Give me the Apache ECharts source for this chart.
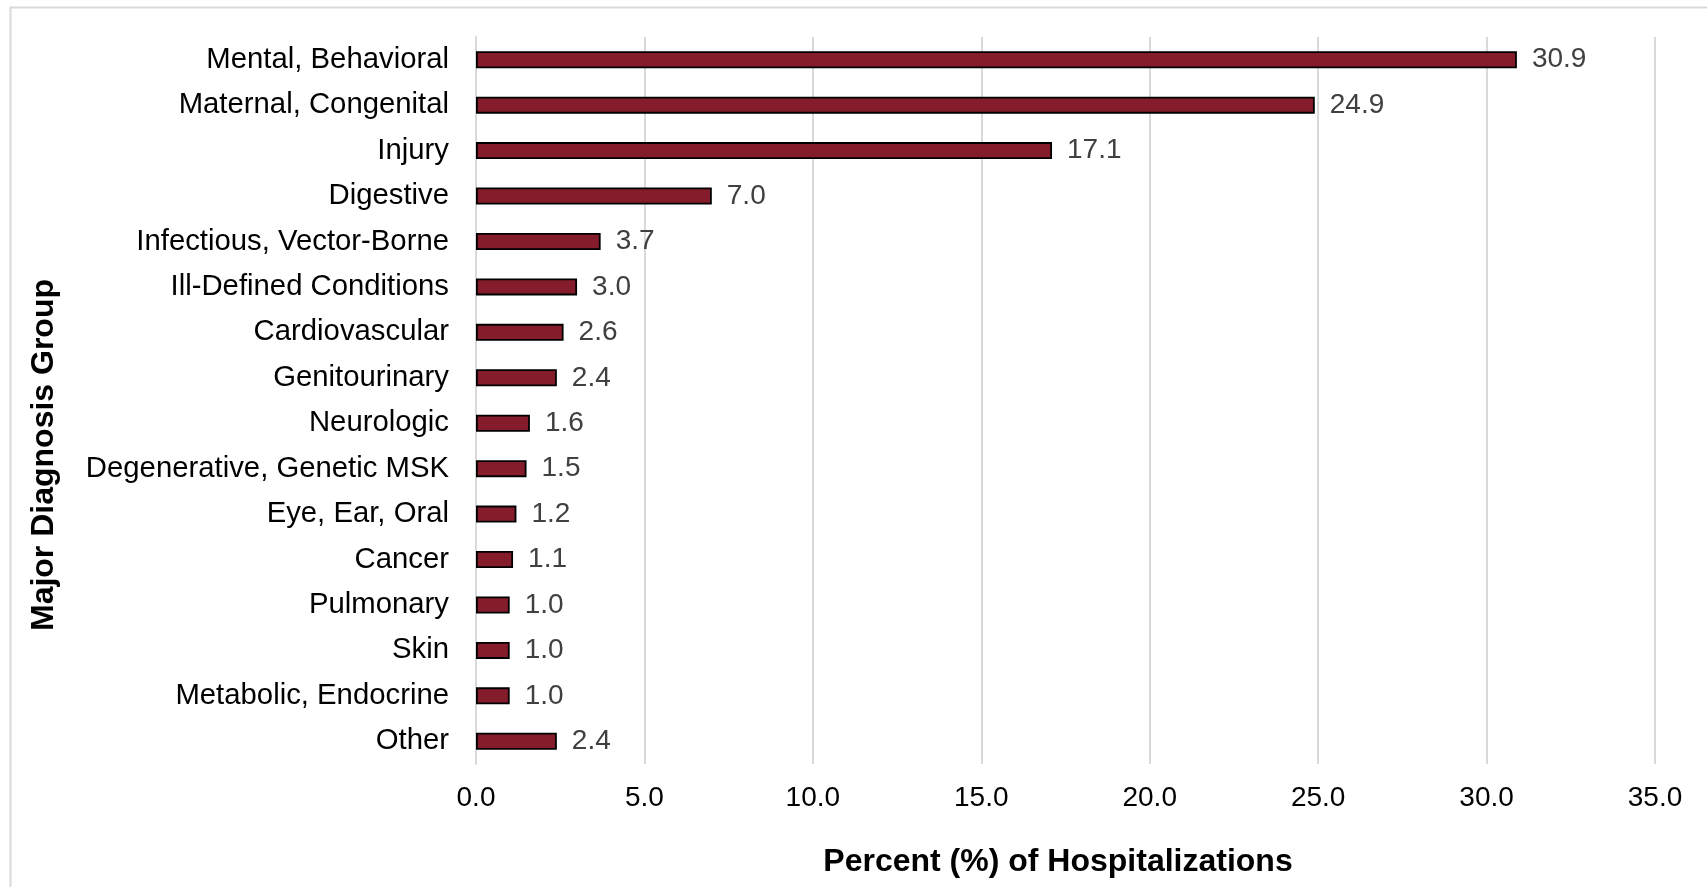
<!DOCTYPE html>
<html>
<head>
<meta charset="utf-8">
<script src="https://cdn.jsdelivr.net/npm/echarts@6/dist/echarts.min.js"></script>
<style>
html,body{margin:0;padding:0;background:#fff;}
#chart{width:1707px;height:887px;}
</style>
</head>
<body>
<div id="chart"></div>
<script>
const categories = [
  'Mental, Behavioral', 'Maternal, Congenital', 'Injury', 'Digestive',
  'Infectious, Vector-Borne', 'Ill-Defined Conditions', 'Cardiovascular',
  'Genitourinary', 'Neurologic', 'Degenerative, Genetic MSK', 'Eye, Ear, Oral',
  'Cancer', 'Pulmonary', 'Skin', 'Metabolic, Endocrine', 'Other'
];
const percents = [30.9, 24.9, 17.1, 7.0, 3.7, 3.0, 2.6, 2.4, 1.6, 1.5, 1.2, 1.1, 1.0, 1.0, 1.0, 2.4];
const xTicks = { min: 0, max: 35, interval: 5 };
const xTitle = 'Percent (%) of Hospitalizations';
const yTitle = 'Major Diagnosis Group';

const FONT = '"Liberation Sans", Arial, sans-serif';
const chart = echarts.init(document.getElementById('chart'), null, { renderer: 'canvas' });
chart.setOption({
  backgroundColor: '#fff',
  animation: false,
  grid: { left: 476, right: 52, top: 37, bottom: 123, containLabel: false },
  graphic: [
    { type: 'rect', left: 8, top: 5, silent: true,
      shape: { width: 1740, height: 920 },
      style: { fill: 'none', stroke: '#d9d9d9', lineWidth: 2 } },
    { type: 'text', x: 44, y: 455, rotation: Math.PI / 2, silent: true,
      style: { text: yTitle, font: 'bold 32px ' + FONT, fill: '#000',
        textAlign: 'center', textVerticalAlign: 'middle' } }
  ],
  xAxis: {
    type: 'value', min: xTicks.min, max: xTicks.max, interval: xTicks.interval,
    name: xTitle, nameLocation: 'middle', nameGap: 82,
    nameTextStyle: { fontFamily: FONT, fontSize: 32, fontWeight: 'bold', color: '#000',
      padding: [0, 15, 0, 0] },
    axisLine: { show: false }, axisTick: { show: false },
    axisLabel: { fontFamily: FONT, fontSize: 28, color: '#000', margin: 20,
      formatter: v => v.toFixed(1) },
    splitLine: { show: true, lineStyle: { color: '#d9d9d9', width: 2 } }
  },
  yAxis: {
    type: 'category', data: categories, inverse: true,
    axisLine: { show: true, lineStyle: { color: '#d9d9d9', width: 2 } },
    axisTick: { show: false },
    axisLabel: { fontFamily: FONT, fontSize: 29.3, color: '#000', margin: 27 },
    splitLine: { show: false }
  },
  series: [{
    type: 'bar', data: percents, barWidth: 17,
    itemStyle: { color: '#841C2B', borderColor: '#000', borderWidth: 1.8 },
    label: { show: true, position: 'right', distance: 15, fontFamily: FONT,
      fontSize: 28, color: '#404040', formatter: p => p.value.toFixed(1) }
  }]
});
</script>
</body>
</html>
